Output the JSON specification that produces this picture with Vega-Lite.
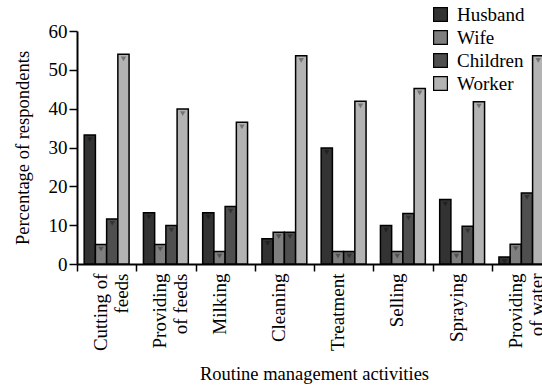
{
  "$schema": "https://vega.github.io/schema/vega-lite/v6.json",
  "autosize": "none",
  "padding": {"left": 77, "top": 31, "right": 0, "bottom": 121},
  "width": 474,
  "height": 233,
  "background": "white",
  "config": {
    "view": {"stroke": null},
    "font": "Liberation Serif",
    "style": {
      "guide-label": {"font": "Liberation Serif"},
      "guide-title": {"font": "Liberation Serif"}
    },
    "axis": {
      "labelFont": "Liberation Serif",
      "titleFont": "Liberation Serif",
      "labelColor": "black",
      "titleColor": "black",
      "domainColor": "black",
      "tickColor": "black",
      "titleFontWeight": "normal"
    },
    "legend": {"labelFont": "Liberation Serif", "titleFont": "Liberation Serif"}
  },
  "data": {
    "values": [
      {"activity": "Cutting of feeds", "group": "Husband", "pct": 33.2},
      {"activity": "Cutting of feeds", "group": "Wife", "pct": 5},
      {"activity": "Cutting of feeds", "group": "Children", "pct": 11.6},
      {"activity": "Cutting of feeds", "group": "Worker", "pct": 54},
      {"activity": "Providing of feeds", "group": "Husband", "pct": 13.2},
      {"activity": "Providing of feeds", "group": "Wife", "pct": 5},
      {"activity": "Providing of feeds", "group": "Children", "pct": 9.9},
      {"activity": "Providing of feeds", "group": "Worker", "pct": 39.9},
      {"activity": "Milking", "group": "Husband", "pct": 13.2},
      {"activity": "Milking", "group": "Wife", "pct": 3.2},
      {"activity": "Milking", "group": "Children", "pct": 14.8},
      {"activity": "Milking", "group": "Worker", "pct": 36.5},
      {"activity": "Cleaning", "group": "Husband", "pct": 6.5},
      {"activity": "Cleaning", "group": "Wife", "pct": 8.2},
      {"activity": "Cleaning", "group": "Children", "pct": 8.2},
      {"activity": "Cleaning", "group": "Worker", "pct": 53.6},
      {"activity": "Treatment", "group": "Husband", "pct": 29.9},
      {"activity": "Treatment", "group": "Wife", "pct": 3.2},
      {"activity": "Treatment", "group": "Children", "pct": 3.2},
      {"activity": "Treatment", "group": "Worker", "pct": 41.9},
      {"activity": "Selling", "group": "Husband", "pct": 9.9},
      {"activity": "Selling", "group": "Wife", "pct": 3.2},
      {"activity": "Selling", "group": "Children", "pct": 13},
      {"activity": "Selling", "group": "Worker", "pct": 45.2},
      {"activity": "Spraying", "group": "Husband", "pct": 16.6},
      {"activity": "Spraying", "group": "Wife", "pct": 3.2},
      {"activity": "Spraying", "group": "Children", "pct": 9.7},
      {"activity": "Spraying", "group": "Worker", "pct": 41.8},
      {"activity": "Providing of water", "group": "Husband", "pct": 1.8},
      {"activity": "Providing of water", "group": "Wife", "pct": 5.1},
      {"activity": "Providing of water", "group": "Children", "pct": 18.3},
      {"activity": "Providing of water", "group": "Worker", "pct": 53.6}
    ]
  },
  "encoding": {
    "x": {
      "field": "activity",
      "type": "nominal",
      "sort": null,
      "scale": {"paddingInner": 0, "paddingOuter": 0},
      "axis": {
        "title": "Routine management activities",
        "titleFontSize": 18.5,
        "titlePadding": 14,
        "labelAngle": -90,
        "labelAlign": "right",
        "labelBaseline": "middle",
        "labelFontSize": 19,
        "labelLineHeight": 21,
        "labelPadding": 2,
        "labelOffset": -6,
        "tickBand": "extent",
        "tickSize": 7,
        "tickWidth": 1.5,
        "domainWidth": 2,
        "labelExpr": "datum.value == 'Cutting of feeds' ? ['Cutting of', 'feeds'] : datum.value == 'Providing of feeds' ? ['Providing', 'of feeds'] : datum.value == 'Providing of water' ? ['Providing', 'of water'] : datum.value"
      }
    },
    "xOffset": {
      "field": "group",
      "type": "nominal",
      "sort": ["Husband", "Wife", "Children", "Worker"],
      "scale": {"paddingInner": 0, "paddingOuter": 0.64}
    },
    "y": {
      "field": "pct",
      "type": "quantitative",
      "scale": {"domain": [0, 60], "nice": false},
      "axis": {
        "title": "Percentage of respondents",
        "titleFontSize": 18.5,
        "titlePadding": 16,
        "values": [0, 10, 20, 30, 40, 50, 60],
        "labelFontSize": 19,
        "labelPadding": 2,
        "tickSize": 8,
        "tickWidth": 1.5,
        "domainWidth": 2,
        "grid": false
      }
    },
    "color": {
      "field": "group",
      "type": "nominal",
      "sort": ["Husband", "Wife", "Children", "Worker"],
      "scale": {"domain": ["Husband", "Wife", "Children", "Worker"], "range": ["#333333", "#7f7f7f", "#4f4f4f", "#b3b3b3"]},
      "legend": {
        "title": null,
        "orient": "none",
        "legendX": 354,
        "legendY": -26,
        "symbolType": "square",
        "symbolSize": 190,
        "symbolStrokeColor": "black",
        "symbolStrokeWidth": 1.2,
        "symbolOpacity": 1,
        "labelFont": "Liberation Serif",
        "labelFontSize": 19,
        "labelColor": "black",
        "labelOffset": 7,
        "rowPadding": 3
      }
    }
  },
  "layer": [
    {"mark": {"type": "bar", "stroke": "black", "strokeWidth": 1.5}},
    {
      "mark": {"type": "point", "shape": "triangle-down", "filled": true, "size": 30, "yOffset": 4.5, "opacity": 0.35, "strokeWidth": 0},
      "encoding": {"color": {"value": "black"}}
    }
  ]
}
